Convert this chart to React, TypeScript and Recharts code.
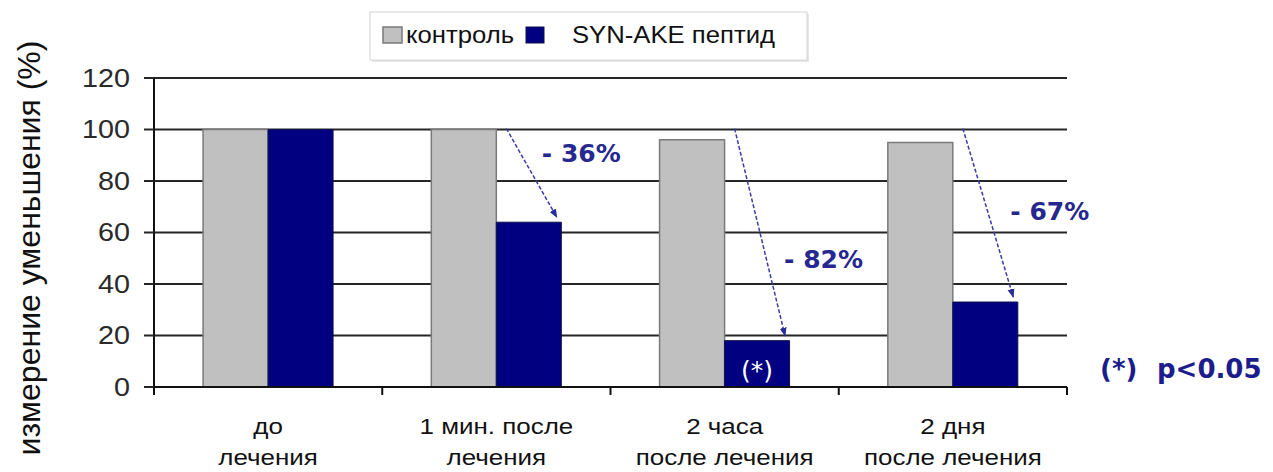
import React from 'react';
import { BarChart, Bar, XAxis, YAxis, CartesianGrid, LabelList } from 'recharts';

// ---------- data ----------
const categories = ['до лечения', '1 мин. после лечения', '2 часа после лечения', '2 дня после лечения'];
const categoryLines = [
  ['до', 'лечения'],
  ['1 мин. после', 'лечения'],
  ['2 часа', 'после лечения'],
  ['2 дня', 'после лечения'],
];
const controlValues = [100, 100, 96, 95];
const peptideValues = [100, 64, 18, 33];
const reductionLabels = ['', '- 36%', '- 82%', '- 67%'];
const significanceMarks = ['', '', '(*)', ''];
const yTicks = [0, 20, 40, 60, 80, 100, 120];
const seriesNames = ['контроль', 'SYN-AKE пептид'];
const yAxisTitle = 'измерение уменьшения (%)';
const noteParts = ['(*)', 'p<0.05'];

const data = categories.map((c, i) => ({
  category: c,
  control: controlValues[i],
  peptide: peptideValues[i],
}));

// ---------- style / layout ----------
const W = 1273;
const H = 472;
const FONT = '"Liberation Sans", Arial, sans-serif';
const BOLD_FONT = '"DejaVu Sans", Verdana, sans-serif';
const GRAY = '#c0c0c0';
const NAVY = '#000080';
const ANNOT = '#26288f';
const GRID = '#262626';

// label placement relative to each peptide bar (dx from bar left, t along arrow)
const annotationLayout = [null, { dx: 85, t: 0.28 }, { dx: 99, t: 0.63 }, { dx: 97, t: 0.49 }];

const YTick = (props: any) => {
  const { x, y, payload } = props;
  return (
    <text
      transform={`translate(${x} ${y}) scale(1.15 1)`}
      textAnchor="end"
      dy="0.355em"
      fontSize={25}
      fontFamily={FONT}
      fill="#2a2a2a"
    >
      {payload.value}
    </text>
  );
};

const XTick = (props: any) => {
  const { x, y, payload } = props;
  const idx = categories.indexOf(payload.value);
  const half = typeof payload.offset === 'number' && payload.offset > 0 ? payload.offset : 114;
  const lines = categoryLines[idx] || [payload.value];
  return (
    <g>
      <line x1={x + half} x2={x + half} y1={y} y2={y + 8} stroke="#111" strokeWidth={2} />
      {idx === 0 && <line x1={x - half} x2={x - half} y1={y} y2={y + 8} stroke="#111" strokeWidth={2} />}
      {lines.map((ln, k) => (
        <text
          key={k}
          transform={`translate(${x} ${y + 47 + k * 31}) scale(1.18 1)`}
          textAnchor="middle"
          fontSize={22}
          fontFamily={FONT}
          fill="#111"
        >
          {ln}
        </text>
      ))}
    </g>
  );
};

const PeptideAnnotation = (props: any) => {
  const vb = props.viewBox || {};
  const x = props.x ?? vb.x;
  const y = props.y ?? vb.y;
  const width = props.width ?? vb.width;
  const height = props.height ?? vb.height;
  const index = props.index;
  const value = peptideValues[index];
  if (x == null || y == null || !value) return null;
  const bottom = y + height;
  const perUnit = height / value;
  const y100 = bottom - 100 * perUnit;
  const out: any[] = [];
  const lay = annotationLayout[index];
  if (lay && reductionLabels[index]) {
    const sx = x + 10;
    const sy = y100 - 1;
    const ex = x + width * 0.93;
    const ey = y - 5;
    out.push(
      <line
        key="arr"
        x1={sx}
        y1={sy}
        x2={ex}
        y2={ey}
        stroke="#3a3ca8"
        strokeWidth={1.5}
        strokeDasharray="4 2"
        markerEnd="url(#arrowHead)"
      />
    );
    const ly = sy + (ey - sy) * lay.t;
    out.push(
      <text
        key="lbl"
        x={x + lay.dx}
        y={ly}
        dy="0.36em"
        textAnchor="middle"
        fontSize={25}
        fontWeight="bold"
        fontFamily={BOLD_FONT}
        fill={ANNOT}
      >
        {reductionLabels[index]}
      </text>
    );
  }
  if (significanceMarks[index]) {
    out.push(
      <text
        key="sig"
        x={x + width / 2}
        y={bottom - 8}
        textAnchor="middle"
        fontSize={25}
        fontFamily={BOLD_FONT}
        fill="#ffffff"
      >
        {significanceMarks[index]}
      </text>
    );
  }
  return <g>{out}</g>;
};

export default function App() {
  return (
    <div style={{ position: 'absolute', left: 0, top: 0, width: W, height: H, background: '#fff' }}>
      <BarChart
        width={W}
        height={H}
        data={data}
        margin={{ top: 78, right: 206, bottom: 25, left: 94 }}
        barCategoryGap="21.5%"
        barGap={0}
      >
        <defs>
          <marker id="arrowHead" markerWidth="9" markerHeight="9" refX="8" refY="4.5" orient="auto" markerUnits="userSpaceOnUse">
            <path d="M0,1 L9,4.5 L0,8 Z" fill="#2a2c9a" />
          </marker>
        </defs>
        <CartesianGrid vertical={false} stroke={GRID} strokeWidth={2} />
        <XAxis
          dataKey="category"
          height={60}
          interval={0}
          tickLine={false}
          tickSize={0}
          tickMargin={0}
          axisLine={{ stroke: '#111', strokeWidth: 2 }}
          tick={<XTick />}
        />
        <YAxis
          type="number"
          domain={[0, 120]}
          ticks={yTicks}
          interval={0}
          width={60}
          tickSize={10}
          tickMargin={14}
          tickLine={{ stroke: GRID, strokeWidth: 2 }}
          axisLine={{ stroke: '#111', strokeWidth: 2 }}
          tick={<YTick />}
        />
        <Bar dataKey="control" name={seriesNames[0]} fill={GRAY} stroke="#7a7a7a" strokeWidth={1.5} isAnimationActive={false} />
        <Bar dataKey="peptide" name={seriesNames[1]} fill={NAVY} stroke="#10104a" strokeWidth={1} isAnimationActive={false}>
          <LabelList dataKey="peptide" content={(p: any) => <PeptideAnnotation {...p} />} />
        </Bar>
      </BarChart>
      <svg width={W} height={H} style={{ position: 'absolute', left: 0, top: 0, pointerEvents: 'none' }}>
        {/* y axis title */}
        <text
          transform="translate(40 248) rotate(-90)"
          textAnchor="middle"
          fontSize={32}
          fontFamily={FONT}
          fill="#111"
        >
          {yAxisTitle}
        </text>
        {/* legend */}
        <rect x={372} y={14} width={437} height={48} fill="#e6e6e6" />
        <rect x={370} y={12} width={437} height={48} fill="#fff" stroke="#d4d4d4" strokeWidth={1} />
        <rect x={383} y={27} width={19} height={16} fill={GRAY} stroke="#7a7a7a" strokeWidth={1.5} />
        <text transform="translate(406 43) scale(1.07 1)" fontSize={24} fontFamily={FONT} fill="#111">
          {seriesNames[0]}
        </text>
        <rect x={526} y={27} width={18} height={16} fill={NAVY} stroke="#10104a" strokeWidth={1} />
        <text transform="translate(572 43) scale(1.07 1)" fontSize={24} fontFamily={FONT} fill="#111">
          {seriesNames[1]}
        </text>
        {/* significance note */}
        <text x={1100} y={378} fontSize={26} fontWeight="bold" fontFamily={BOLD_FONT} fill="#1c1c8c">
          {noteParts[0]}
        </text>
        <text x={1157} y={378} fontSize={26} fontWeight="bold" fontFamily={BOLD_FONT} fill="#1c1c8c">
          {noteParts[1]}
        </text>
      </svg>
    </div>
  );
}
